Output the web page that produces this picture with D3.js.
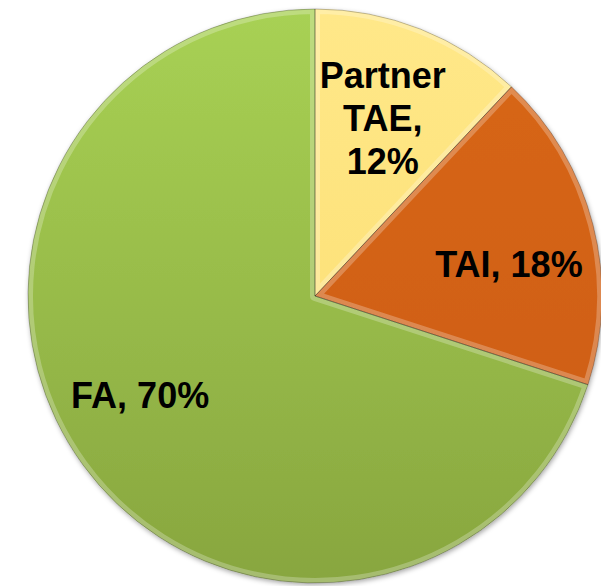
<!DOCTYPE html>
<html>
<head>
<meta charset="utf-8">
<script src="https://cdn.jsdelivr.net/npm/d3@7"></script>
<style>
  html, body { margin: 0; padding: 0; background: #ffffff; }
</style>
</head>
<body>
<div id="chart"></div>
<script>
// data
const categories = ["Partner TAE", "TAI", "FA"];
const shares = [12, 18, 70];
const colorsTop = ["#ffe889", "#d86719", "#a8d154"];
const colorsBottom = ["#fbdc6c", "#cc5c17", "#88a63f"];

const width = 601;
const height = 586;
const cx = 315;
const cy = 296;
const radius = 287;

// label placement tweaks (best-fit style): extra angle in degrees, radius ratio
const labelTurn = [-0.8, 5, 6.5];
const labelRatio = [0.665, 0.685, 0.70];

const svg = d3.select("#chart")
  .append("svg")
  .attr("width", width)
  .attr("height", height)
  .style("display", "block");

const defs = svg.append("defs");

// soft shadow under the pie
const shadow = defs.append("filter")
  .attr("id", "shadow")
  .attr("x", "-10%").attr("y", "-10%")
  .attr("width", "120%").attr("height", "120%");
shadow.append("feDropShadow")
  .attr("dx", 1).attr("dy", 2)
  .attr("stdDeviation", 2.5)
  .attr("flood-color", "#000")
  .attr("flood-opacity", 0.35);

// one vertical gradient per slice, spanning the whole pie
categories.forEach(function(c, i) {
  const g = defs.append("linearGradient")
    .attr("id", "grad" + i)
    .attr("gradientUnits", "userSpaceOnUse")
    .attr("x1", 0).attr("y1", -radius)
    .attr("x2", 0).attr("y2", radius);
  g.append("stop").attr("offset", "0%").attr("stop-color", colorsTop[i]);
  g.append("stop").attr("offset", "100%").attr("stop-color", colorsBottom[i]);
});

const pie = d3.pie()
  .value(function(d) { return d; })
  .sort(null);

const arcs = pie(shares);

const arc = d3.arc()
  .innerRadius(0)
  .outerRadius(radius);

const g = svg.append("g")
  .attr("transform", "translate(" + cx + "," + cy + ")");

// clip paths for inner bevel
arcs.forEach(function(d, i) {
  defs.append("clipPath")
    .attr("id", "clip" + i)
    .append("path")
    .attr("d", arc(d));
});

const slices = g.append("g")
  .attr("filter", "url(#shadow)");

slices.selectAll("path.slice")
  .data(arcs)
  .enter()
  .append("path")
  .attr("class", "slice")
  .attr("d", arc)
  .attr("fill", function(d, i) { return "url(#grad" + i + ")"; });

// light bevel band inside each slice edge
g.selectAll("path.bevel")
  .data(arcs)
  .enter()
  .append("path")
  .attr("class", "bevel")
  .attr("d", arc)
  .attr("clip-path", function(d, i) { return "url(#clip" + i + ")"; })
  .attr("fill", "none")
  .attr("stroke", "#ffffff")
  .attr("stroke-opacity", 0.25)
  .attr("stroke-width", 10)
  .attr("stroke-linejoin", "round");

// thin darker outline
g.selectAll("path.edge")
  .data(arcs)
  .enter()
  .append("path")
  .attr("class", "edge")
  .attr("d", arc)
  .attr("fill", "none")
  .attr("stroke", "#000000")
  .attr("stroke-opacity", 0.25)
  .attr("stroke-width", 1);

// labels
const fontSize = 36;
const lineHeight = 43;

function labelLines(d, i) {
  const text = categories[i] + ", " + shares[i] + "%";
  // narrow slices get one word per line
  if (shares[i] < 15) return text.split(" ");
  return [text];
}

function labelPos(d, i) {
  const a = (d.startAngle + d.endAngle) / 2 + labelTurn[i] * Math.PI / 180;
  const r = radius * labelRatio[i];
  return [r * Math.sin(a), -r * Math.cos(a)];
}

const labels = g.selectAll("text.label")
  .data(arcs)
  .enter()
  .append("text")
  .attr("class", "label")
  .attr("transform", function(d, i) {
    return "translate(" + labelPos(d, i) + ")";
  })
  .attr("text-anchor", "middle")
  .style("font-family", "'Liberation Sans', Arial, sans-serif")
  .style("font-weight", "bold")
  .style("font-size", fontSize + "px")
  .attr("fill", "#000");

labels.each(function(d, i) {
  const lines = labelLines(d, i);
  const t = d3.select(this);
  const y0 = -(lines.length - 1) * lineHeight / 2 + fontSize * 0.36;
  lines.forEach(function(line, k) {
    t.append("tspan")
      .attr("x", 0)
      .attr("y", y0 + k * lineHeight)
      .text(line);
  });
});
</script>
</body>
</html>
